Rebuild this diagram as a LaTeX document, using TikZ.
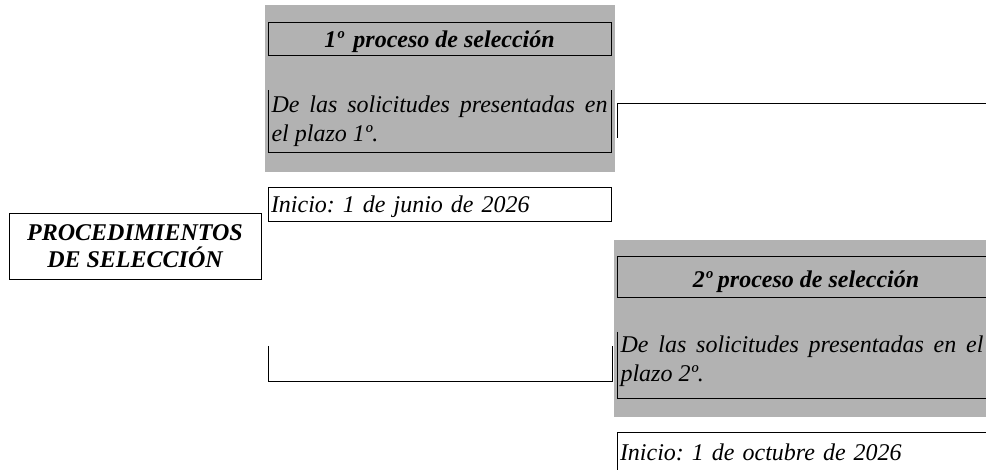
\documentclass[tikz,border=0pt]{standalone}
\usepackage{fontspec}
\setmainfont{Liberation Serif}
\usetikzlibrary{positioning}
\definecolor{grisfondo}{RGB}{178,178,178}
\frenchspacing

\begin{document}
\begin{tikzpicture}[x=1pt, y=-1pt, line width=0.8pt,
    every node/.style={font=\fontsize{24}{29}\selectfont\itshape, inner sep=0pt, outer sep=0pt, anchor=north west},
    fondo/.style={fill=grisfondo},
    titulo/.style={draw, font=\fontsize{24}{27}\selectfont\bfseries\itshape, align=center, text depth=0pt},
    marco/.style={minimum width=#1},
    texto/.style={text width=#1, align=justify, inner xsep=3.5pt, anchor=west},
    inicio/.style={draw, text width=#1, text depth=0pt, align=left, inner xsep=3pt},
    enlace/.style={line width=1pt}]

        \useasboundingbox (0,0) rectangle (986,470);
        \clip (0,0) rectangle (986,470);

        \node[titulo, minimum width=252, minimum height=66] (proc) at (9,213) {PROCEDIMIENTOS\\DE SELECCIÓN};

        \node[fondo, minimum width=350, minimum height=167] (fondoA) at (265,5) {};
        \node[titulo, minimum width=343, minimum height=33, text height=18pt] (tituloA) at (268,22) {1º\hspace{4pt} proceso de selección};
        \node[marco=343, minimum height=62] (marcoA) at (268,90) {};
        \node[texto=336pt] (textoA) at (marcoA.west) {De las solicitudes presentadas en\linebreak el plazo 1º.};
        \node[inicio=337pt, minimum height=34] (inicioA) at (268,187) {Inicio: 1 de junio de 2026};

        \node[fondo, minimum width=384, minimum height=177] (fondoB) at (614,240) {};
        \node[titulo, minimum width=378, minimum height=41, text height=22pt] (tituloB) at (617,256) {2º proceso de selección};
        \node[marco=378, minimum height=66] (marcoB) at (617,332) {};
        \node[texto=363pt] (textoB) at ([yshift=4pt]marcoB.west) {De las solicitudes presentadas en el\linebreak plazo 2º.};
        \node[inicio=372pt, minimum height=41] (inicioB) at (617,432) {Inicio: 1 de octubre de 2026};

        \draw (marcoA.north west) -- (marcoA.south west) -- (marcoA.south east) -- (marcoA.north east);
        \draw (marcoB.north west) -- (marcoB.south west) -- (marcoB.south east);

        \coordinate (ramaA) at (617,138);
        \coordinate (llaveA) at (1000,104);
        \coordinate (ramaB) at (268,346);
        \coordinate (ramaC) at (612,346);

        \draw[enlace] (ramaA) |- (llaveA);
        \draw[enlace] (ramaB) -- ++(0,36) -| (ramaC);

        \end{tikzpicture}
\end{document}
